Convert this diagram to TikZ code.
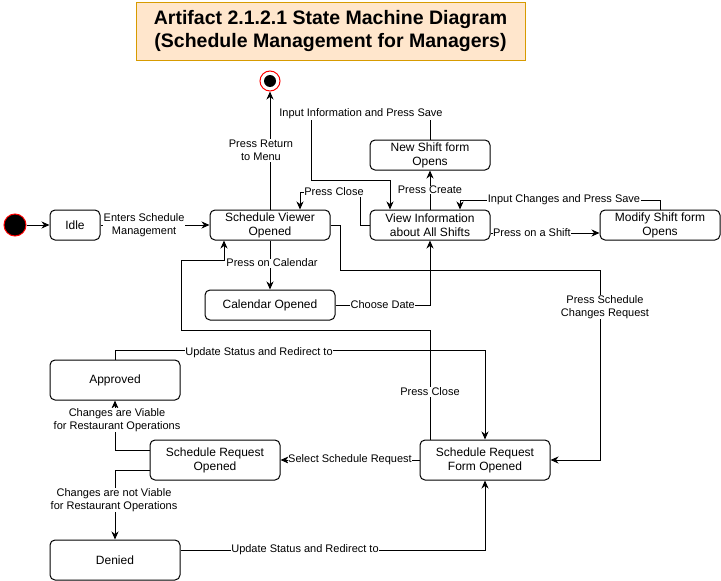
\documentclass[tikz,border=0pt]{standalone}
\usepackage{fontspec}
\setmainfont{Liberation Sans}
\usepackage{xcolor}
\usepackage{tikz}
\usetikzlibrary{arrows.meta}
\definecolor{SMInk}{HTML}{000000}
\definecolor{SMPeach}{HTML}{FFE6CC}
\definecolor{SMOrange}{HTML}{D79B00}
\definecolor{SMRed}{HTML}{FF0000}

\begin{document}
\begin{tikzpicture}[x=1pt,y=-1pt,
    state/.style={draw=SMInk,line width=1pt,rounded corners=5pt,align=center,
      font=\fontsize{12}{14}\selectfont,inner sep=0pt},
    lbl/.style={fill=white,inner sep=0.5pt,align=center,font=\fontsize{11}{13.5}\selectfont},
    flow/.style={draw=SMInk,line width=1pt,-{Stealth[length=8pt,width=7pt,inset=2.5pt]}}]
    \useasboundingbox (0,0) rectangle (721,581);
    % title
    \node[fill=SMPeach,draw=SMOrange,line width=1pt,minimum width=389pt,minimum height=58pt,
      align=center,font=\bfseries\fontsize{19.5}{23}\selectfont] (title) at (330.5,31)
      {Artifact 2.1.2.1 State Machine Diagram\\(Schedule Management for Managers)};
    % start and end
    \node[circle,fill=black,draw=SMRed,line width=1pt,minimum size=22pt,inner sep=0pt] (init) at (15,225) {};
    \node[circle,draw=SMRed,line width=1pt,fill=white,minimum size=20pt,inner sep=0pt] (final) at (270,81) {};
    \node[circle,fill=black,minimum size=12pt,inner sep=0pt] (finaldot) at (final) {};
    % states
    \foreach \n/\x/\y/\w/\h/\t in {idle/75/225/50/30/Idle,
        viewer/270/225/120/30/{Schedule Viewer\\Opened},
        newshift/430/155/120/30/{New Shift form\\Opens},
        allshifts/430/225/120/30/{View Information\\about All Shifts},
        modshift/660/225/120/30/{Modify Shift form\\Opens},
        calendar/270/305/130/30/{Calendar Opened},
        approved/115/380/130/40/Approved,
        request/215/460/130/40/{Schedule Request\\Opened},
        form/485/460/130/40/{Schedule Request\\Form Opened},
        denied/115/560/130/40/Denied} {
      \node[state,minimum width=\w pt,minimum height=\h pt] (\n) at (\x,\y) {\t};
    }
    % transitions
    \draw[flow] (init) -- (idle);
    \draw[flow] (idle) -- node[lbl,pos=0.4] (enterlbl) {Enters Schedule\\Management} (viewer);
    \draw[flow] (viewer) -- node[lbl,xshift=-9pt] (returnlbl) {Press Return\\to Menu} (final);
    \draw[flow] (allshifts.west) -| (360,192) -| ([xshift=30pt]viewer.north)
      node[lbl] (closelbl) at (334,192) {Press Close};
    \draw[flow] (newshift.north) |- (311,114) |- (390,180) -- ([xshift=-40pt]allshifts.north)
      node[lbl] (savelbl) at (361,114) {Input Information and Press Save};
    \draw[flow] (allshifts) -- node[lbl] (createlbl) {Press Create} (newshift);
    \draw[flow] ([yshift=-8pt]allshifts.east) -- node[lbl,pos=0.38] (shiftlbl) {Press on a Shift} ([yshift=-8pt]modshift.west);
    \draw[flow] (modshift.north) |- (460,200) -- ([xshift=30pt]allshifts.north)
      node[lbl] (changelbl) at (564,200) {Input Changes and Press Save};
    \draw[flow] (viewer) -- node[lbl,pos=0.46,xshift=2pt] (calendarlbl) {Press on Calendar} (calendar);
    \draw[flow] (calendar.east) -| node[lbl,pos=0.25] (datelbl) {Choose Date} (allshifts.south);
    \draw[flow] (viewer.east) -- ++(10,0) |- (600,270) |- (form.east)
      node[lbl] (requestlbl) at (605,307) {Press Schedule\\Changes Request};
    \draw[flow] ([xshift=-55pt]form.north) |- (181,330) |- (224,260) -- ([xshift=-46pt]viewer.south)
      node[lbl] (formcloselbl) at (430,392) {Press Close};
    \draw[flow] (approved.north) |- (485,350) -- (form.north)
      node[lbl] (approvedlbl) at (259,353) {Update Status and Redirect to};
    \draw[flow] ([yshift=10pt]request.west) -| (approved.south)
      node[lbl] (viablelbl) at (117,420) {Changes are Viable\\for Restaurant Operations};
    \draw[flow] ([yshift=-10pt]request.west) -| (denied.north)
      node[lbl] (notviablelbl) at (114,500) {Changes are not Viable\\for Restaurant Operations};
    \draw[flow] (form) -- node[lbl] (selectlbl) {Select Schedule Request} (request);
    \draw[flow] ([yshift=10pt]denied.east) -| (form.south)
      node[lbl] (deniedlbl) at (305,550) {Update Status and Redirect to};
  \end{tikzpicture}
\end{document}
